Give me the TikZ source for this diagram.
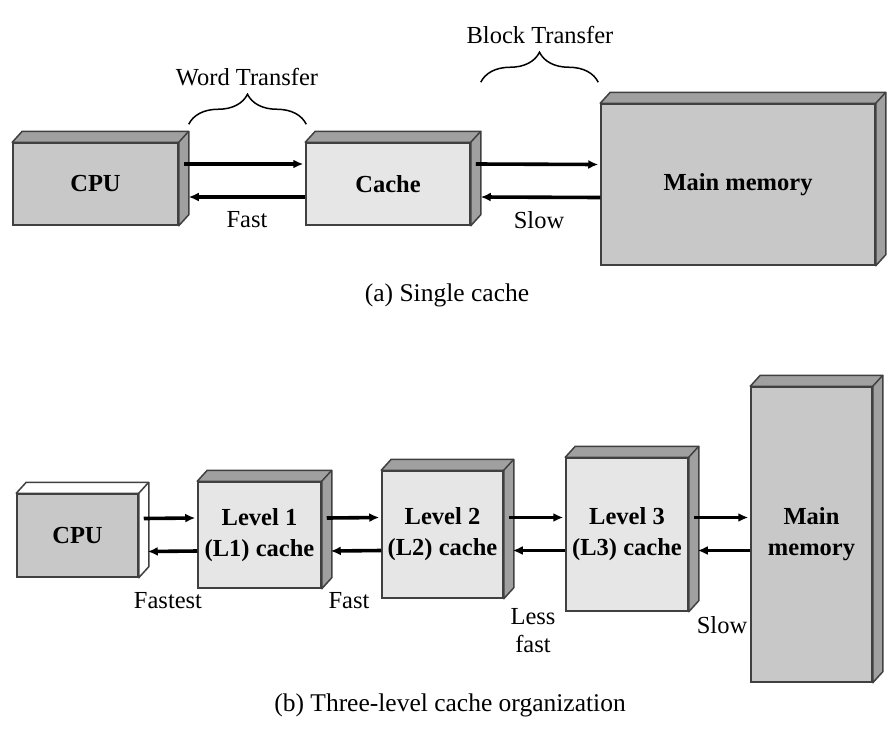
\documentclass[tikz,border=0pt]{standalone}
\usepackage{fontspec}
\setmainfont{Liberation Serif}
\usetikzlibrary{arrows.meta,calc,decorations.pathreplacing}
\definecolor{facedark}{HTML}{C8C8C8}
\definecolor{facelight}{HTML}{E6E6E6}
\definecolor{faceside}{HTML}{A0A0A0}
\definecolor{edgegray}{HTML}{404040}
\tikzset{
  block/.style={draw=edgegray, line width=1.5pt, inner sep=0pt, align=center,
    font=\fontsize{24.5}{31}\selectfont\bfseries},
  dark/.style={block, fill=facedark},
  light/.style={block, fill=facelight},
  lbl/.style={font=\fontsize{24.5}{28}\selectfont, align=center, inner sep=0pt},
  xfer/.style={line width=3.6pt, -{Latex[length=10pt,width=9pt]}},
  curly/.style={line width=1.5pt, decorate, decoration={brace, amplitude=30pt}},
}
% top and side faces of a block
\newcommand\blockdepth[2]{%
  \filldraw[fill=#2, draw=edgegray, line width=1.5pt, line join=round]
    (#1.north west) -- ++(10,-11) -- ($(#1.north east)+(10,-11)$)
    -- ($(#1.south east)+(10,-11)$) -- (#1.south east) -- (#1.north east) -- cycle;
  \draw[edgegray, line width=1.5pt] (#1.north east) -- ++(10,-11);
}
\begin{document}
\begin{tikzpicture}[x=1pt,y=-1pt]
\useasboundingbox (0,0) rectangle (891,731);
% (a) single cache
\node[dark, minimum width=165pt, minimum height=82pt] (cpuA) at (95.5,184) {CPU};
\node[light, minimum width=164pt, minimum height=82pt] (cacheA) at (388,184) {Cache};
\node[dark, minimum width=274pt, minimum height=161pt] (memA) at (738,184.5) {Main memory};
% (b) three-level cache
\node[dark, minimum width=121pt, minimum height=83pt] (cpuB) at (77.5,535.5) {CPU};
\node[light, minimum width=123pt, minimum height=106pt] (lone) at (259.5,535) {Level 1\\(L1) cache};
\node[light, minimum width=121pt, minimum height=127pt] (ltwo) at (442.5,534.5) {Level 2\\(L2) cache};
\node[light, minimum width=122pt, minimum height=153pt] (lthree) at (627,534.5) {Level 3\\(L3) cache};
\node[dark, minimum width=121pt, minimum height=295pt] (memB) at (811.5,534.5) {Main\\memory};
\foreach \n/\c in {cpuA/faceside,cacheA/faceside,memA/faceside,cpuB/white,lone/faceside,ltwo/faceside,lthree/faceside,memB/faceside}{
  \blockdepth{\n}{\c}
}
% transfers
\foreach \a/\b in {cpuA/cacheA,cacheA/memA}{
  \draw[xfer] ($(\a.east)+(5,-20)$) -- ($(\b.west)+(-2,-20)$);
  \draw[xfer] ($(\b.west)+(0,13)$) -- ($(\a.east)+(10,13)$);
}
\foreach \a/\b in {cpuB/lone,lone/ltwo,ltwo/lthree,lthree/memB}{
  \draw[xfer] ($(\a.east)+(5,-17)$) -- ($(\b.west)+(-2,-17)$);
  \draw[xfer] ($(\b.west)+(0,16)$) -- ($(\a.east)+(9,16)$);
}
\draw[curly] ($(cpuA.north east)+(10,-18)$) -- ($(cacheA.north west)+(1,-18)$);
\draw[curly] ($(cacheA.north east)+(10,-60)$) -- ($(memA.north west)+(-2,-21)$);
\node[lbl] (wordA) at (247,77) {Word Transfer};
\node[lbl] (blockA) at (540,35) {Block Transfer};
\node[lbl] (fastA) at (247,220) {Fast};
\node[lbl] (slowA) at (539,220) {Slow};
\node[lbl] (fastestB) at (168,601) {Fastest};
\node[lbl] (fastB) at (349,601) {Fast};
\node[lbl] (lessB) at (533,631) {Less\\fast};
\node[lbl] (slowB) at (722,625) {Slow};
\node[lbl, font=\fontsize{25.5}{28}\selectfont] (capA) at (447,295) {(a) Single cache};
\node[lbl, font=\fontsize{25.5}{28}\selectfont] (capB) at (450,705) {(b) Three-level cache organization};
\end{tikzpicture}
\end{document}
